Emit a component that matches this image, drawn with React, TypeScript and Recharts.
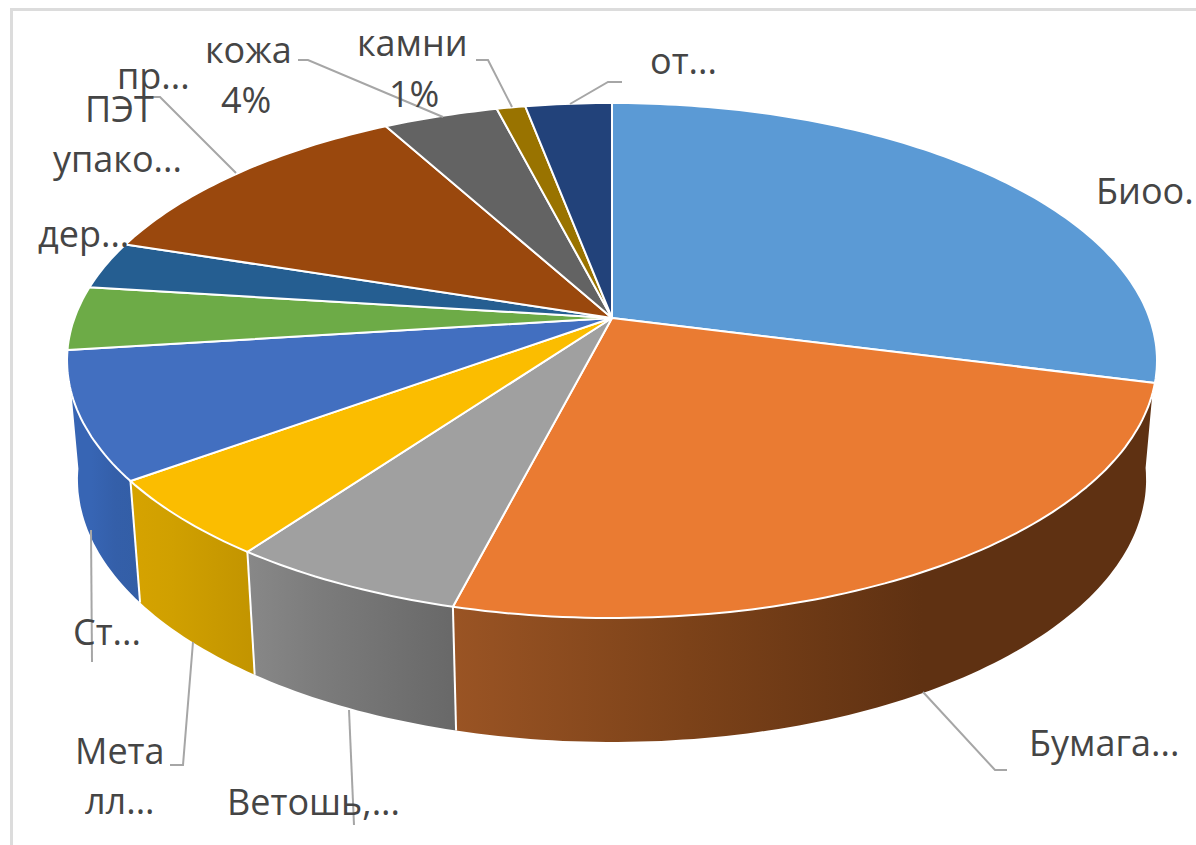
import { PieChart, Pie, Cell } from "recharts";

// values (percent of total), clockwise from 12 o'clock
const categories = ["Биоо.", "Бумага...", "Ветошь,...", "Металл...", "Ст...", "прочее", "дер...", "ПЭТ упако...", "кожа", "камни", "от..."];
const values = [29, 25, 6, 5, 8, 4, 3, 12, 4, 1, 3];
const topColors = ["#5b9ad5", "#ea7b32", "#a0a0a0", "#fbbd00", "#426fc0", "#6dab47", "#255e91", "#9a480d", "#636363", "#997300", "#22427a"];

const chartData = categories.map((name, i) => ({ name, value: values[i] }));

const WIDTH = 1196;
const HEIGHT = 845;
const FONT = '"Open Sans", "Noto Sans", sans-serif';

// fake 3D: a circle in perspective, tilted back
const TILT = 0.466;
const PERSPECTIVE = 0.165;
const BASE_SHRINK = 0.98;
const FRONT_FROM = 97;
const FRONT_TO = 262.8;

const wallStops: Record<number, string[]> = {
  1: ["#9a5424", "#7c4219", "#5f3112", "#5f3112"],
  2: ["#888888", "#7c7c7c", "#727272", "#686868"],
  3: ["#d6a300", "#d0a000", "#c99a00", "#c29400"],
  4: ["#3765b4", "#3765b4", "#345fa9", "#335ea6"],
};

const project = (cx: number, cy: number, r: number, clockDeg: number) => {
  const a = (clockDeg * Math.PI) / 180;
  const u = Math.sin(a);
  const v = Math.cos(a);
  const w = 1 + PERSPECTIVE * v;
  return { x: cx + (r * u) / w, y: cy - (r * TILT * v) / w, v };
};

const base = (cx: number, cy: number, r: number, clockDeg: number) => {
  const p = project(cx, cy, r, clockDeg);
  return { x: cx + (p.x - cx) * BASE_SHRINK, y: p.y + 118 - p.v * 6 };
};

const arcPoints = (from: number, to: number) => {
  const out: number[] = [];
  const n = Math.max(2, Math.ceil(Math.abs(to - from)));
  for (let i = 0; i <= n; i++) out.push(from + ((to - from) * i) / n);
  return out;
};

const toPath = (pts: { x: number; y: number }[]) =>
  pts.map((p, i) => `${i === 0 ? "M" : "L"}${p.x.toFixed(1)},${p.y.toFixed(1)}`).join(" ") + " Z";

function TopFace(props: any) {
  const { cx, cy, outerRadius, startAngle, endAngle, fill } = props;
  const pts = arcPoints(90 - startAngle, 90 - endAngle).map((d) => project(cx, cy, outerRadius, d));
  return <path d={toPath([{ x: cx, y: cy }, ...pts])} fill={fill} stroke="#ffffff" strokeWidth={2} strokeLinejoin="round" />;
}

function SideWall(props: any) {
  const { cx, cy, outerRadius, startAngle, endAngle, index } = props;
  const start = 90 - startAngle;
  const end = 90 - endAngle;
  const stops = wallStops[index];
  if (!stops) return <g />;
  // the first front wall starts at the silhouette of the disc
  const from = index === 1 ? Math.min(start, FRONT_FROM) : start;
  const to = Math.min(end, FRONT_TO);
  const angles = arcPoints(from, to);
  const top = angles.map((d) => project(cx, cy, outerRadius, d));
  const bottom = angles.map((d) => base(cx, cy, outerRadius, d)).reverse();
  const id = `wall-${index}`;
  return (
    <g>
      <defs>
        <linearGradient id={id} x1="0" y1="0" x2="1" y2="0">
          {stops.map((c, i) => (
            <stop key={i} offset={i / (stops.length - 1)} stopColor={c} />
          ))}
        </linearGradient>
      </defs>
      <path d={toPath([...top, ...bottom])} fill={`url(#${id})`} stroke="none" />
      {index > 1 && (
        <line
          x1={top[0].x}
          y1={top[0].y}
          x2={bottom[bottom.length - 1].x}
          y2={bottom[bottom.length - 1].y}
          stroke="#ffffff"
          strokeWidth={2}
        />
      )}
    </g>
  );
}

// label text and leader lines, by slice
const labelPlacement: Record<number, { text: [string, number, number][]; leader: string }> = {
  0: { text: [["Биоо.", 1096, 204]], leader: "" },
  1: { text: [["Бумага...", 1029, 756]], leader: "1007,770 995,770 923,692" },
  2: { text: [["Ветошь,...", 227, 815]], leader: "354,825 349,710" },
  3: { text: [["Мета", 75, 764], ["лл...", 85, 814]], leader: "170,765 183,765 193,642" },
  4: { text: [["Ст...", 73, 645]], leader: "92,662 91,530" },
  6: { text: [["дер...", 38, 247]], leader: "" },
  7: { text: [["пр...", 117, 89], ["ПЭТ", 85, 122], ["упако...", 53, 172]], leader: "150,97 160,97 236,173" },
  8: { text: [["кожа", 205, 63], ["4%", 221, 113]], leader: "298,60 308,60 443,117" },
  9: { text: [["камни", 357, 56], ["1%", 389, 107]], leader: "476,60 488,60 512,107" },
  10: { text: [["от...", 650, 74]], leader: "622,82 608,82 570,104" },
};

function SliceLabel(props: any) {
  const place = labelPlacement[props.index];
  if (!place) return <g />;
  return (
    <g>
      {place.leader && <polyline points={place.leader} fill="none" stroke="#a6a6a6" strokeWidth={2} />}
      {place.text.map(([t, x, y]) => (
        <text key={t} x={x} y={y} fill="#454545" fontFamily={FONT} fontSize={36}>
          {t}
        </text>
      ))}
    </g>
  );
}

export default function App() {
  return (
    <div style={{ position: "absolute", left: 0, top: 0, width: WIDTH, height: HEIGHT, background: "#ffffff", overflow: "hidden" }}>
      <div
        style={{
          position: "absolute",
          left: 10,
          top: 8,
          width: WIDTH,
          height: HEIGHT,
          borderLeft: "3px solid #dcdcdc",
          borderTop: "3px solid #dcdcdc",
        }}
      />
      <div style={{ position: "absolute", left: 0, top: 0 }}>
        <PieChart width={WIDTH} height={HEIGHT} margin={{ top: 0, right: 0, bottom: 0, left: 0 }}>
          <Pie
            data={chartData}
            dataKey="value"
            nameKey="name"
            cx={612}
            cy={318}
            outerRadius={537.5}
            startAngle={90}
            endAngle={-270}
            shape={SideWall}
            isAnimationActive={false}
          />
          <Pie
            data={chartData}
            dataKey="value"
            nameKey="name"
            cx={612}
            cy={318}
            outerRadius={537.5}
            startAngle={90}
            endAngle={-270}
            shape={TopFace}
            label={SliceLabel}
            labelLine={false}
            isAnimationActive={false}
          >
            {chartData.map((d, i) => (
              <Cell key={d.name} fill={topColors[i]} />
            ))}
          </Pie>
        </PieChart>
      </div>
    </div>
  );
}
